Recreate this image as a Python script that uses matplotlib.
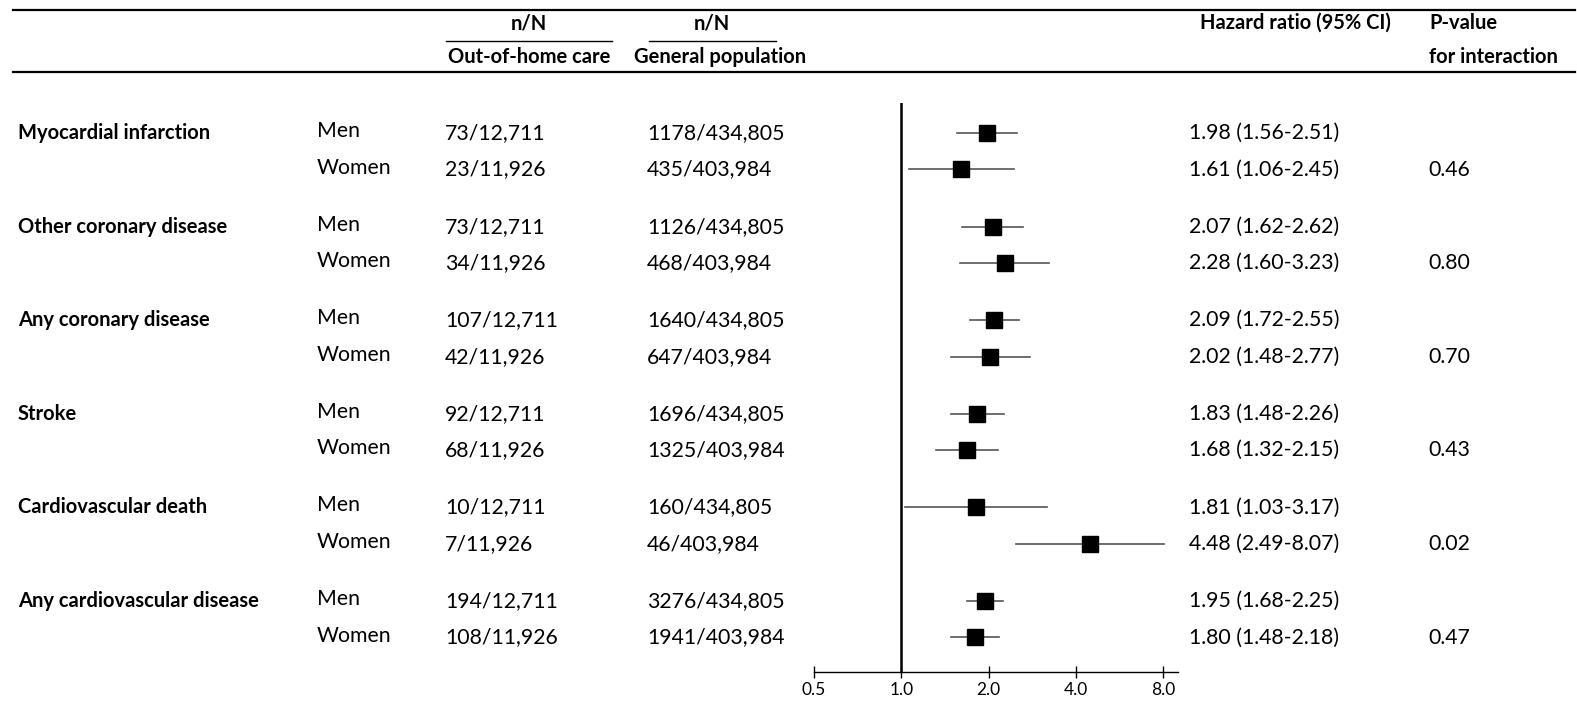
import matplotlib.pyplot as plt
import numpy as np

plt.rcParams['font.family'] = ['Lato', 'DejaVu Sans']

outcomes = ["Myocardial infarction", "Other coronary disease", "Any coronary disease",
            "Stroke", "Cardiovascular death", "Any cardiovascular disease"]
sexes = ["Men", "Women"]
oohc_n = [["73/12,711", "23/11,926"], ["73/12,711", "34/11,926"], ["107/12,711", "42/11,926"],
          ["92/12,711", "68/11,926"], ["10/12,711", "7/11,926"], ["194/12,711", "108/11,926"]]
gen_n = [["1178/434,805", "435/403,984"], ["1126/434,805", "468/403,984"],
         ["1640/434,805", "647/403,984"], ["1696/434,805", "1325/403,984"],
         ["160/434,805", "46/403,984"], ["3276/434,805", "1941/403,984"]]
hr = [[1.98, 1.61], [2.07, 2.28], [2.09, 2.02], [1.83, 1.68], [1.81, 4.48], [1.95, 1.80]]
lo = [[1.56, 1.06], [1.62, 1.60], [1.72, 1.48], [1.48, 1.32], [1.03, 2.49], [1.68, 1.48]]
hi = [[2.51, 2.45], [2.62, 3.23], [2.55, 2.77], [2.26, 2.15], [3.17, 8.07], [2.25, 2.18]]
p_int = ["0.46", "0.80", "0.70", "0.43", "0.02", "0.47"]
ticks = [0.5, 1.0, 2.0, 4.0, 8.0]

W, H = 1577, 703
fig = plt.figure(figsize=(W / 100, H / 100), dpi=100)

# background axes in pixel units for the table part
bg = fig.add_axes([0, 0, 1, 1])
bg.set_xlim(0, W)
bg.set_ylim(H, 0)
bg.axis('off')

fs = 14.5   # bold headers
fr = 15.3   # regular text
bg.plot([13, 1575], [10, 10], color='black', lw=1.6)
bg.plot([13, 1575], [72, 72], color='black', lw=1.6)
bg.plot([446, 612], [41, 41], color='black', lw=1.0)
bg.plot([649, 776], [41, 41], color='black', lw=1.0)
bg.text(529, 23, "n/N", ha='center', va='center', fontsize=fs, fontweight='bold')
bg.text(712, 23, "n/N", ha='center', va='center', fontsize=fs, fontweight='bold')
bg.text(529, 57, "Out-of-home care", ha='center', va='center', fontsize=fs, fontweight='bold')
bg.text(720, 57, "General population", ha='center', va='center', fontsize=fs, fontweight='bold')
bg.text(1200, 23, "Hazard ratio (95% CI)", ha='left', va='center', fontsize=fs, fontweight='bold')
bg.text(1429, 23, "P-value", ha='left', va='center', fontsize=fs, fontweight='bold')
bg.text(1429, 57, "for interaction", ha='left', va='center', fontsize=fs, fontweight='bold')

y0, gstep, sstep = 133, 93.6, 36.5

# forest axes
x_left, x_right = 814, 1178
y_top, y_bot = 103, 672
ax = fig.add_axes([x_left / W, 1 - y_bot / H, (x_right - x_left) / W, (y_bot - y_top) / H])
ax.set_xscale('log', base=2)
ax.set_xlim(0.5, 9.0)
ax.set_ylim(y_bot, y_top)
ax.patch.set_alpha(0)
for s in ['top', 'right', 'left']:
    ax.spines[s].set_visible(False)
ax.spines['bottom'].set_linewidth(1.0)
ax.set_yticks([])
ax.set_xticks(ticks)
ax.set_xticklabels(["%.1f" % t for t in ticks])
ax.xaxis.set_minor_locator(plt.NullLocator())
ax.tick_params(axis='x', direction='inout', length=9, width=1.0, labelsize=12.5, pad=3)
ax.axvline(1.0, color='black', lw=1.8)

for g, name in enumerate(outcomes):
    for s, sex in enumerate(sexes):
        y = y0 + g * gstep + s * sstep
        if s == 0:
            bg.text(18, y, name, ha='left', va='center', fontsize=fs, fontweight='bold')
        bg.text(317, y - 2, sex, ha='left', va='center', fontsize=fr)
        bg.text(445, y, oohc_n[g][s], ha='left', va='center', fontsize=fr)
        bg.text(647, y, gen_n[g][s], ha='left', va='center', fontsize=fr)
        bg.text(1189, y, "%.2f (%.2f-%.2f)" % (hr[g][s], lo[g][s], hi[g][s]),
                ha='left', va='center', fontsize=fr)
        if s == 1:
            bg.text(1428, y, p_int[g], ha='left', va='center', fontsize=fr)
        ax.plot([lo[g][s], hi[g][s]], [y, y], color='#555555', lw=1.2, zorder=2)
        ax.plot(hr[g][s], y, marker='s', color='black', markersize=11.5, zorder=3)

fig.savefig('out.png', dpi=100)
